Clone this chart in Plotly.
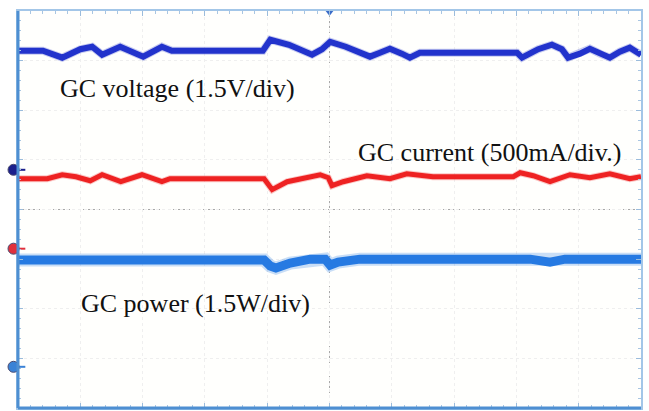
import plotly.graph_objects as go

# Oscilloscope capture: screen is 10 horizontal x 8 vertical divisions.
# Trace samples below are given in screen divisions.

volt_t = [0, 0.40, 0.71, 1.00, 1.19, 1.35, 1.64, 2.01, 2.31, 2.47, 3.93, 4.05, 4.35,
          4.54, 4.72, 4.88, 5.01, 5.26, 5.47, 5.65, 5.81, 5.97, 6.16, 6.29, 6.45,
          8.01, 8.09, 8.35, 8.57, 8.73, 8.83, 9.02, 9.18, 9.34, 9.50, 9.66, 9.82, 10]
volt_div = [7.20, 7.20, 7.06, 7.23, 7.28, 7.12, 7.28, 7.08, 7.28, 7.20, 7.20, 7.42, 7.32,
            7.23, 7.12, 7.23, 7.38, 7.28, 7.18, 7.08, 7.16, 7.24, 7.14, 7.06, 7.16,
            7.16, 7.06, 7.23, 7.32, 7.23, 7.06, 7.14, 7.24, 7.14, 7.06, 7.18, 7.26, 7.12]

curr_t = [0, 0.47, 0.71, 0.93, 1.16, 1.35, 1.65, 1.99, 2.31, 2.44, 3.95, 4.08, 4.32,
          4.64, 4.85, 4.98, 5.04, 5.22, 5.60, 5.97, 6.24, 6.66, 7.95, 8.06, 8.27,
          8.54, 8.86, 9.18, 9.50, 9.82, 10]
curr_div = [4.62, 4.62, 4.70, 4.66, 4.58, 4.70, 4.56, 4.70, 4.56, 4.62, 4.62, 4.40, 4.56,
            4.66, 4.70, 4.64, 4.48, 4.56, 4.68, 4.62, 4.72, 4.66, 4.66, 4.74, 4.68,
            4.56, 4.70, 4.64, 4.72, 4.62, 4.66]

power_t = [0, 1.32, 2.12, 2.92, 3.95, 4.05, 4.14, 4.37, 4.69, 4.93, 5.01, 5.14, 5.49,
           6.45, 7.74, 8.22, 8.54, 8.78, 10]
power_div = [2.98, 2.98, 2.96, 2.98, 2.98, 2.86, 2.82, 2.92, 3.00, 3.00, 2.88, 2.94, 3.00,
             3.00, 3.00, 3.00, 2.94, 3.00, 3.00]

# Channel ground-reference markers on the left edge
ref_levels = [4.80, 3.21, 0.83]
ref_colors = ["#1a1f8c", "#e0303c", "#3a82d6"]

labels = ["GC voltage (1.5V/div)", "GC current (500mA/div.)", "GC power (1.5W/div)"]
label_x = [0.66, 5.44, 1.00]
label_y = [6.43, 5.14, 2.11]

fig = go.Figure()

# each trace: a soft halo underneath, then the solid core
traces = [
    (power_t, power_div, "38,122,226", 9, 13),
    (curr_t, curr_div, "238,34,34", 5, 7),
    (volt_t, volt_div, "34,51,204", 6, 8),
]
for t, v, rgb, core_w, halo_w in traces:
    fig.add_trace(go.Scatter(x=t, y=v, mode="lines",
                             line=dict(color=f"rgba({rgb},0.25)", width=halo_w),
                             hoverinfo="skip"))
    fig.add_trace(go.Scatter(x=t, y=v, mode="lines",
                             line=dict(color=f"rgb({rgb})", width=core_w),
                             hoverinfo="skip"))

# short pointer ticks next to the ground markers
fig.add_trace(go.Scatter(x=[0.05] * 3, y=ref_levels, mode="markers",
                         marker=dict(symbol="line-ew", size=6, color=ref_colors,
                                     line=dict(width=2, color=ref_colors)),
                         cliponaxis=False, hoverinfo="skip"))
# trigger position marker
fig.add_trace(go.Scatter(x=[5], y=[7.97], mode="markers",
                         marker=dict(symbol="triangle-down", size=7, color="#3a6cc8"),
                         cliponaxis=False, hoverinfo="skip"))

# ground marker discs, straddling the left frame edge
for lvl, col in zip(ref_levels, ref_colors):
    fig.add_shape(type="circle", xref="paper", yref="y", xsizemode="pixel",
                  ysizemode="pixel", xanchor=0, yanchor=lvl,
                  x0=-10, x1=1, y0=-5.5, y1=5.5, fillcolor=col,
                  line=dict(color="#4a4a70", width=1), layer="above")

for txt, x, y in zip(labels, label_x, label_y):
    fig.add_annotation(x=x, y=y, text=txt, showarrow=False, xanchor="left",
                       yanchor="middle", borderpad=0,
                       font=dict(family="Liberation Serif", size=26, color="#111111"))

# centre cross-hair
fig.add_shape(type="line", x0=5, x1=5, y0=0, y1=8, layer="below",
              line=dict(color="#a8a8a8", width=1, dash="2px,3px"))
fig.add_shape(type="line", x0=0, x1=10, y0=4, y1=4, layer="below",
              line=dict(color="#a8a8a8", width=1, dash="2px,3px"))
# heavier left and bottom frame edges
fig.add_shape(type="line", xref="paper", yref="paper", x0=0, x1=0, y0=0, y1=1,
              line=dict(color="#4e8fd2", width=3))
fig.add_shape(type="line", xref="paper", yref="paper", x0=0, x1=1, y0=0, y1=0,
              line=dict(color="#4e8fd2", width=3))

axis_common = dict(showticklabels=False, zeroline=False, ticks="inside", ticklen=5,
                   tickcolor="#9bbcdc", tickwidth=1, showline=True, linecolor="#a3c6e8",
                   linewidth=2, mirror="ticks", showgrid=True, gridcolor="#efefef",
                   griddash="dot", gridwidth=1, fixedrange=True,
                   minor=dict(dtick=0.2, ticks="inside", ticklen=3, tickcolor="#a9c6e2",
                              showgrid=False))

fig.update_xaxes(range=[0, 10], dtick=1, tick0=0, **axis_common)
fig.update_yaxes(range=[0, 8], dtick=1, tick0=0, **axis_common)

fig.update_layout(width=649, height=411, showlegend=False,
                  margin=dict(l=18, r=8, t=11, b=3),
                  paper_bgcolor="white", plot_bgcolor="#fffffd")

fig.write_html("out.html")
